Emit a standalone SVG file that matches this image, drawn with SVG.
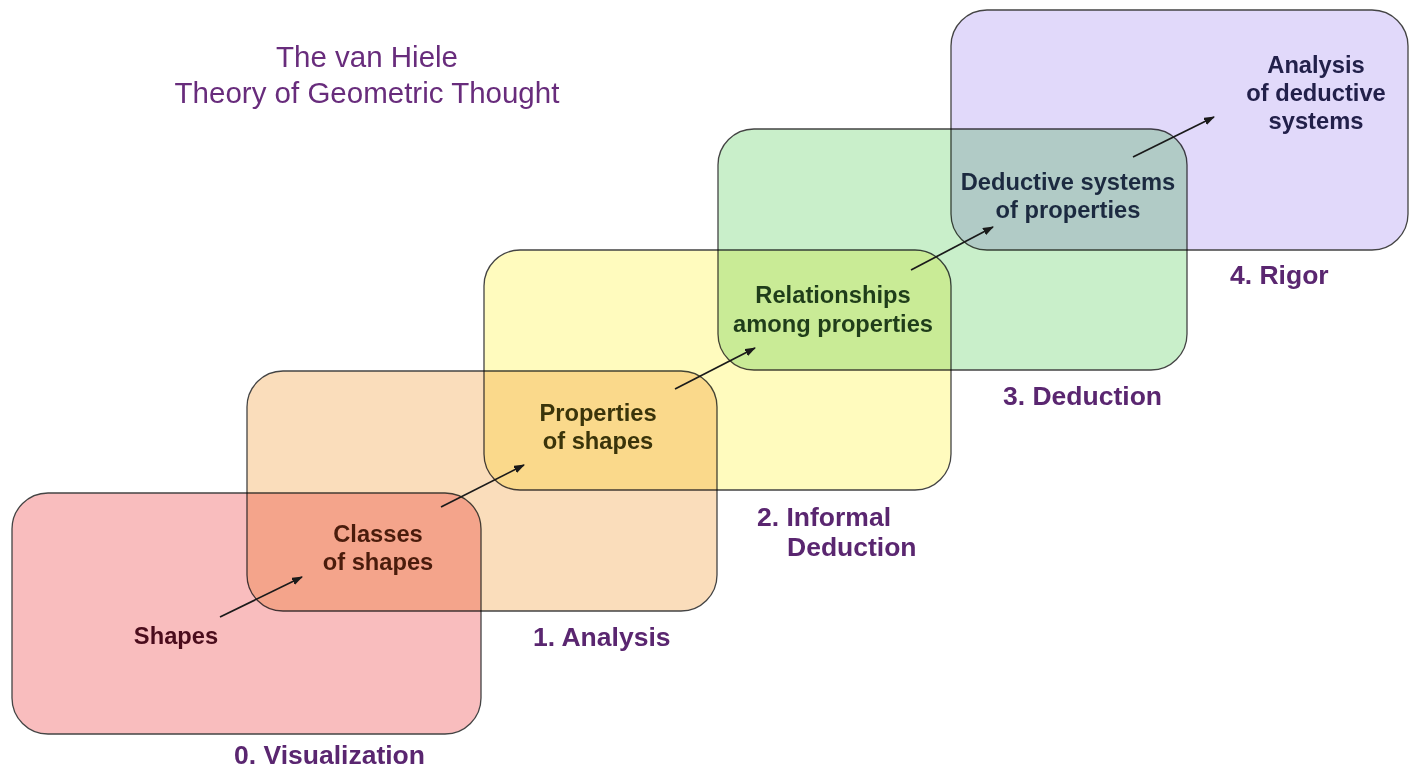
<svg xmlns="http://www.w3.org/2000/svg" width="1410" height="770" viewBox="0 0 1410 770">
<style>
.box{stroke:#444444;stroke-width:1.3;mix-blend-mode:multiply}
.lbl{font-family:"Liberation Sans",Arial,sans-serif;font-weight:bold;font-size:23.7px;text-anchor:middle}
.lvl{font-family:"Liberation Sans",Arial,sans-serif;font-weight:bold;font-size:26.5px;fill:#5a2670}
.title{font-family:"Liberation Sans",Arial,sans-serif;font-size:29.5px;fill:#682c7c;text-anchor:middle}
.arr{stroke:#1a1a1a;stroke-width:1.7;fill:none;marker-end:url(#ah)}
</style>
<defs>
<marker id="ah" markerUnits="userSpaceOnUse" markerWidth="11" markerHeight="8" refX="10" refY="4" orient="auto">
<path d="M0,0 L11,4 L0,8 z" fill="#1a1a1a"/>
</marker>
</defs>
<rect x="0" y="0" width="1410" height="770" fill="#ffffff"/>
<g id="title">
<text class="title" x="367" y="67">The van Hiele</text>
<text class="title" x="367" y="103">Theory of Geometric Thought</text>
</g>
<g id="level0">
<rect class="box" x="12" y="493" width="469" height="241" rx="36" fill="#f9bdbe"/>
<text class="lbl" x="176" y="644" fill="#4a0c1c">Shapes</text>
<text class="lvl" x="234" y="764">0. Visualization</text>
</g>
<g id="level1">
<rect class="box" x="247" y="371" width="470" height="240" rx="36" fill="#faddbb"/>
<text class="lbl" x="378" y="542" fill="#4a1c0c">Classes</text>
<text class="lbl" x="378" y="570" fill="#4a1c0c">of shapes</text>
<text class="lvl" x="533" y="646">1. Analysis</text>
</g>
<g id="level2">
<rect class="box" x="484" y="250" width="467" height="240" rx="36" fill="#fffbbe"/>
<text class="lbl" x="598" y="421" fill="#3a340a">Properties</text>
<text class="lbl" x="598" y="449" fill="#3a340a">of shapes</text>
<text class="lvl" x="757" y="526">2. Informal</text>
<text class="lvl" x="787" y="556">Deduction</text>
</g>
<g id="level3">
<rect class="box" x="718" y="129" width="469" height="241" rx="36" fill="#c9efca"/>
<text class="lbl" x="833" y="303" fill="#1f3d1a">Relationships</text>
<text class="lbl" x="833" y="332" fill="#1f3d1a">among properties</text>
<text class="lvl" x="1003" y="405">3. Deduction</text>
</g>
<g id="level4">
<rect class="box" x="951" y="10" width="457" height="240" rx="36" fill="#e1d9fa"/>
<text class="lbl" x="1068" y="190" fill="#1c2a40">Deductive systems</text>
<text class="lbl" x="1068" y="218" fill="#1c2a40">of properties</text>
<text class="lbl" x="1316" y="73" fill="#22204a">Analysis</text>
<text class="lbl" x="1316" y="101" fill="#22204a">of deductive</text>
<text class="lbl" x="1316" y="129" fill="#22204a">systems</text>
<text class="lvl" x="1230" y="284">4. Rigor</text>
</g>
<g id="connectors">
<line class="arr" x1="220" y1="617" x2="302" y2="577"/>
<line class="arr" x1="441" y1="507" x2="524" y2="465"/>
<line class="arr" x1="675" y1="389" x2="755" y2="348"/>
<line class="arr" x1="911" y1="270" x2="993" y2="227"/>
<line class="arr" x1="1133" y1="157" x2="1214" y2="117"/>
</g>
</svg>
